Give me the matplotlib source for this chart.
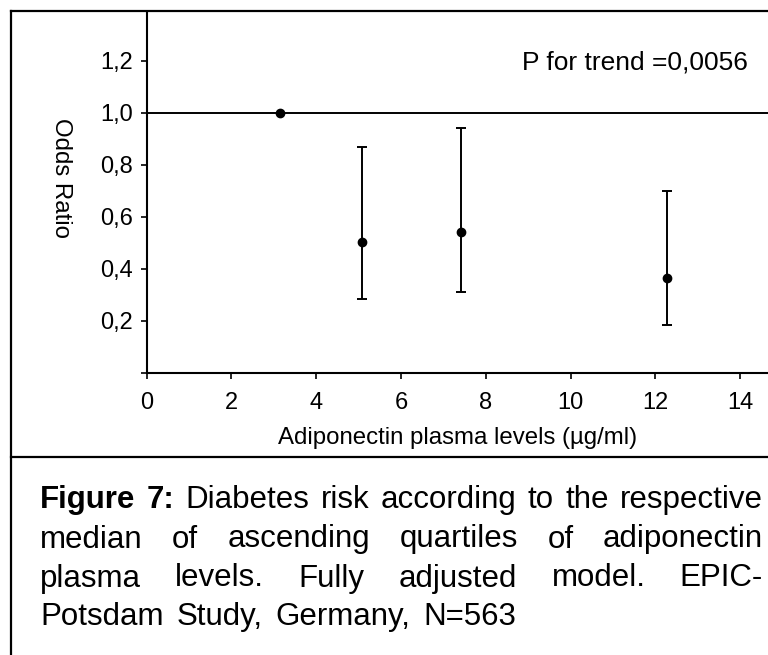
import numpy as np
import matplotlib
matplotlib.use("Agg")
import matplotlib.pyplot as plt
from matplotlib.lines import Line2D
from matplotlib.ticker import FixedLocator, FuncFormatter

plt.rcParams['font.family'] = ['Liberation Sans', 'DejaVu Sans']

# data
adipo_median = [3.14, 5.09, 7.41, 12.27]
odds_ratio = [1.0, 0.503, 0.541, 0.364]
ci_low = [1.0, 0.283, 0.309, 0.185]
ci_high = [1.0, 0.868, 0.941, 0.700]
x_ticks = [0, 2, 4, 6, 8, 10, 12, 14]
y_ticks = [0.0, 0.2, 0.4, 0.6, 0.8, 1.0, 1.2]

caption_lines = [
    [("Figure", "bold"), ("7:", "bold"), ("Diabetes", "normal"), ("risk", "normal"),
     ("according", "normal"), ("to", "normal"), ("the", "normal"), ("respective", "normal")],
    [(w, "normal") for w in "median of ascending quartiles of adiponectin".split()],
    [(w, "normal") for w in "plasma levels. Fully adjusted model. EPIC-".split()],
    [(w, "normal") for w in "Potsdam Study, Germany, N=563".split()],
]

W, H = 768, 655


def px(x, y):
    # pixel position (from top-left) -> figure fraction
    return x / W, 1 - y / H


def main():
    fig = plt.figure(figsize=(W / 100, H / 100), dpi=100)
    left, top = px(146.7, 11.5)
    _, bottom = px(0, 372.7)
    ax = fig.add_axes([left, bottom, 1.0 - left, top - bottom])

    # reference line at OR = 1
    ax.axhline(1.0, color='k', linewidth=1.4, zorder=1)

    lo = np.array(odds_ratio) - np.array(ci_low)
    hi = np.array(ci_high) - np.array(odds_ratio)
    ax.errorbar(adipo_median[1:], odds_ratio[1:], yerr=[lo[1:], hi[1:]],
                fmt='none', ecolor='k', elinewidth=1.4, capsize=3.6, capthick=1.4)
    ax.plot(adipo_median, odds_ratio, 'o', color='k', markersize=6, zorder=3)

    ax.set_xlim(0, 14.66)
    ax.set_ylim(0, 1.39)
    ax.xaxis.set_major_locator(FixedLocator(x_ticks))
    ax.yaxis.set_major_locator(FixedLocator(y_ticks))
    ax.yaxis.set_major_formatter(FuncFormatter(
        lambda v, p: '' if v == 0 else f"{v:.1f}".replace('.', ',')))
    ax.tick_params(direction='out', length=4, width=1.2, labelsize=17, pad=6)
    ax.tick_params(axis='x', pad=10)

    for s in ['top', 'right']:
        ax.spines[s].set_visible(False)
    for s in ['left', 'bottom']:
        ax.spines[s].set_linewidth(1.5)

    ax.set_xlabel('Adiponectin plasma levels (µg/ml)', fontsize=17.3, labelpad=9)
    ax.set_ylabel('Odds Ratio', fontsize=17.3, rotation=270)
    ax.yaxis.set_label_coords(-0.155, 0.54)

    ax.text(0.604, 0.84, 'P for trend =0,0056', transform=ax.transAxes,
            fontsize=19, va='baseline', ha='left')

    # frame around figure and caption separator
    for xs, ys in [((11, 11), (11, H)), ((11, W), (11, 11)), ((11, W), (456.7, 456.7))]:
        p0 = px(xs[0], ys[0])
        p1 = px(xs[1], ys[1])
        fig.add_artist(Line2D([p0[0], p1[0]], [p0[1], p1[1]], color='k',
                              linewidth=1.6, transform=fig.transFigure))

    # justified caption
    renderer = fig.canvas.get_renderer()
    cap_left, cap_right = 40, 763
    baselines = [508.3, 547.5, 586.5, 625.0]
    size = 22.5
    s = fig.text(0, 0, 'a a', fontsize=size)
    s2 = fig.text(0, 0, 'aa', fontsize=size)
    space = s.get_window_extent(renderer).width - s2.get_window_extent(renderer).width
    s.remove()
    s2.remove()
    for i, (line, yb) in enumerate(zip(caption_lines, baselines)):
        texts = []
        widths = []
        for word, weight in line:
            t = fig.text(0, 0, word, fontsize=size, fontweight=weight, va='baseline')
            widths.append(t.get_window_extent(renderer).width)
            texts.append(t)
        if i < len(caption_lines) - 1:
            gap = (cap_right - cap_left - sum(widths)) / (len(line) - 1)
        else:
            gap = space * 1.5
        x = cap_left
        for t, w in zip(texts, widths):
            t.set_position(px(x, yb))
            x += w + gap

    fig.savefig('out.png', dpi=100)


if __name__ == "__main__":
    main()
